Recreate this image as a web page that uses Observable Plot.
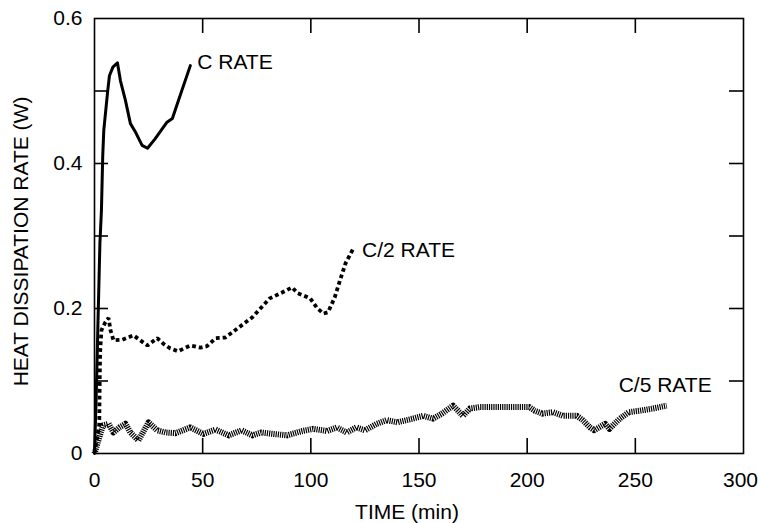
<!DOCTYPE html>
<html><head><meta charset="utf-8">
<script src="https://cdn.jsdelivr.net/npm/d3@7"></script>
<script src="https://cdn.jsdelivr.net/npm/@observablehq/plot@0.6"></script>
<style>body{margin:0;background:#fff}</style>
</head><body><div id="chart"></div>
<script>
// ---- data ----
const cTime = [0,0.8,1.6,2.5,3.2,3.8,4.3,6,6.9,8.5,10.6,12,14.3,16.6,19,22,24.5,28,33.5,36,38.8,44.3];
const cRate = [0,0.08,0.18,0.29,0.335,0.41,0.446,0.497,0.521,0.533,0.539,0.514,0.487,0.455,0.443,0.425,0.421,0.434,0.457,0.462,0.487,0.535];

const c2Time = [0,2.2,2.4,2.6,3.2,5,6.5,7.4,8.8,12.9,18,21.2,24.5,29,32,35,38.6,44.3,49,52,56,60.5,65,73,81,86.7,91.3,94,99.7,102.8,105.8,108,111,113.5,116,119.7];
const c2Rate = [0,0.04,0.1,0.14,0.17,0.181,0.187,0.17,0.156,0.157,0.163,0.156,0.149,0.159,0.151,0.145,0.141,0.149,0.146,0.148,0.159,0.16,0.17,0.188,0.214,0.222,0.229,0.221,0.214,0.201,0.193,0.195,0.215,0.239,0.262,0.283];

const c5Time = [0,1.5,3,4,6.5,8.8,11.5,14.3,16.6,20.3,25,29,32.8,37.4,44.3,50.3,56,62,68,73,77,82.7,89,96,101,107.5,112,116.6,121,125,130.5,135,140,147,152,156.5,160.6,165.7,168,170.3,173.5,178,201,203.5,207,212,216.5,223,225.7,229,231,236,238,242.8,247,252,258,264.5];
const c5Rate = [0,0.015,0.03,0.039,0.041,0.029,0.036,0.041,0.029,0.018,0.043,0.032,0.029,0.028,0.036,0.027,0.033,0.025,0.032,0.025,0.029,0.027,0.025,0.031,0.034,0.031,0.036,0.029,0.036,0.032,0.041,0.046,0.043,0.048,0.052,0.048,0.055,0.066,0.059,0.052,0.062,0.064,0.064,0.059,0.055,0.057,0.052,0.052,0.046,0.036,0.032,0.041,0.034,0.048,0.057,0.059,0.062,0.066];

const seriesLabels = ["C RATE", "C/2 RATE", "C/5 RATE"];
const labelTime = [47.5, 123.7, 242.3];
const labelRate = [0.539, 0.281, 0.094];

const xTickLabels = [0, 50, 100, 150, 200, 250];
const xLastTickLabel = [300];
const xMinorTicks = [50, 100, 150, 200, 250];
const yTickLabels = [0, 0.2, 0.4, 0.6];
const yTickText = ["0", "0.2", "0.4", "0.6"];
const yMinorTicks = [0.1, 0.2, 0.3, 0.4, 0.5];
const xTitle = "TIME (min)";
const yTitle = "HEAT DISSIPATION RATE (W)";

// ---- build tables ----
const toRows = (ts, vs) => ts.map((t, i) => ({t, v: vs[i]}));
const cRows = toRows(cTime, cRate);
const c2Rows = toRows(c2Time, c2Rate);
const c5Rows = toRows(c5Time, c5Rate);
const labelRows = seriesLabels.map((s, i) => ({s, t: labelTime[i], v: labelRate[i]}));

const W = 758, H = 523, mL = 94, mR = 15, mT = 18, mB = 70;
const innerH = H - mT - mB, innerW = W - mL - mR;
const tickLen = 14;

const chart = Plot.plot({
  width: W, height: H,
  marginLeft: mL, marginRight: mR, marginTop: mT, marginBottom: mB,
  style: {fontFamily: "'Liberation Sans', Arial, sans-serif", fontSize: "21px", color: "#000", background: "#fff", overflow: "visible"},
  x: {domain: [0, 300]},
  y: {domain: [0, 0.6]},
  marks: [
    Plot.frame({stroke: "#000", strokeWidth: 1.6}),
    Plot.tickX(xMinorTicks, {x: d => d, insetTop: innerH - 15, stroke: "#000", strokeWidth: 1.6}),
    Plot.tickX(xMinorTicks, {x: d => d, insetBottom: innerH - 15, stroke: "#000", strokeWidth: 1.6}),
    Plot.tickY(yMinorTicks, {y: d => d, insetRight: innerW - tickLen, stroke: "#000", strokeWidth: 1.6}),
    Plot.tickY(yMinorTicks, {y: d => d, insetLeft: innerW - tickLen, stroke: "#000", strokeWidth: 1.6}),
    Plot.axisX(xTickLabels, {tickSize: 0, tickPadding: 19, label: null, fontSize: 21}),
    Plot.axisX(xLastTickLabel, {tickSize: 0, tickPadding: 19, label: null, fontSize: 21, dx: -3}),
    Plot.axisY(yTickLabels, {tickSize: 0, tickPadding: 12, label: null, fontSize: 21,
      tickFormat: d => yTickText[yTickLabels.indexOf(d)]}),
    Plot.line(c5Rows, {x: "t", y: "v", stroke: "#000", strokeWidth: 6, strokeDasharray: "1.2,1", strokeLinecap: "butt", strokeLinejoin: "round"}),
    Plot.line(c2Rows, {x: "t", y: "v", stroke: "#000", strokeWidth: 3.8, strokeDasharray: "3.8,3", strokeLinecap: "butt", strokeLinejoin: "miter"}),
    Plot.line(cRows, {x: "t", y: "v", stroke: "#000", strokeWidth: 3, strokeLinejoin: "round", strokeLinecap: "round"}),
    Plot.text(labelRows, {x: "t", y: "v", text: "s", textAnchor: "start", fontSize: 21, fill: "#000"}),
    Plot.text([xTitle], {text: d => d, frameAnchor: "bottom", lineAnchor: "middle", dx: -12, dy: 59, fontSize: 21, fill: "#000"}),
    Plot.text([yTitle], {text: d => d, frameAnchor: "left", textAnchor: "middle", lineAnchor: "middle", rotate: -90, dx: -73, dy: 5.5, fontSize: 21, fill: "#000"})
  ]
});
document.getElementById("chart").appendChild(chart);
</script>
</body></html>
